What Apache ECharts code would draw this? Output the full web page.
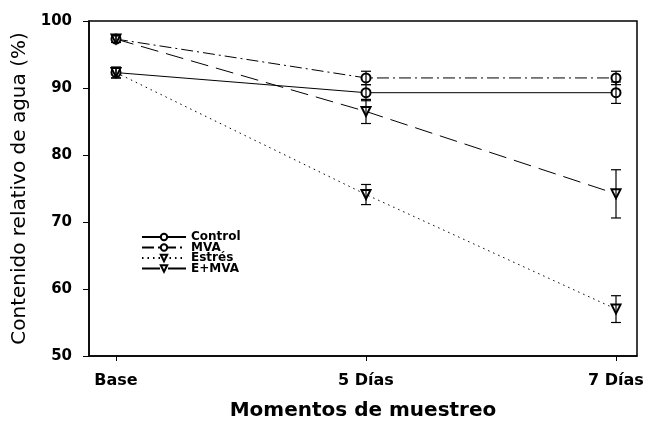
<!DOCTYPE html>
<html>
<head>
<meta charset="utf-8">
<script src="https://cdn.jsdelivr.net/npm/echarts@6/dist/echarts.min.js"></script>
<style>html,body{margin:0;padding:0;background:#fff}#c{width:646px;height:422px}</style>
</head>
<body>
<div id="c"></div>
<script>
var categories = ['Base', '5 Días', '7 Días'];
var seriesNames = ['Control', 'MVA', 'Estrés', 'E+MVA'];
var controlVals = [92.3, 89.3, 89.3];
var controlErr = [0.8, 1.2, 1.6];
var mvaVals = [97.3, 91.5, 91.5];
var mvaErr = [0.5, 1.0, 1.0];
var estresVals = [92.3, 74.1, 57.0];
var estresErr = [0.8, 1.5, 2.0];
var emvaVals = [97.3, 86.5, 74.2];
var emvaErr = [0.5, 1.8, 3.6];
var yTicks = [50, 60, 70, 80, 90, 100];

var FONT = 'DejaVu Sans';
var chart = echarts.init(document.getElementById('c'), null, {renderer: 'canvas'});

function pts(vals) { return vals.map(function (v, i) { return [i, v]; }); }
function errData(vals, errs) { return vals.map(function (v, i) { return [i, v - errs[i], v + errs[i]]; }); }

var styles = [
  {vals: controlVals, errs: controlErr, symbol: 'emptyCircle', rot: 0, type: 'solid'},
  {vals: mvaVals, errs: mvaErr, symbol: 'emptyCircle', rot: 0, type: [12, 4, 2, 4]},
  {vals: estresVals, errs: estresErr, symbol: 'emptyTriangle', rot: 180, type: [1.5, 4]},
  {vals: emvaVals, errs: emvaErr, symbol: 'emptyTriangle', rot: 180, type: [18, 8]}
];

var series = [];
styles.forEach(function (s, k) {
  series.push({
    name: seriesNames[k], type: 'line', data: pts(s.vals),
    symbol: s.symbol, symbolSize: 9, symbolRotate: s.rot,
    lineStyle: {color: '#000', width: 1, type: s.type},
    itemStyle: {color: '#000', borderWidth: 1},
    z: 3, animation: false
  });
  series.push({
    type: 'custom', data: errData(s.vals, s.errs), z: 5, animation: false,
    renderItem: function (params, api) {
      var lo = api.coord([api.value(0), api.value(1)]);
      var hi = api.coord([api.value(0), api.value(2)]);
      var w = 5;
      var st = {stroke: '#000', lineWidth: 1.2};
      return {type: 'group', children: [
        {type: 'line', shape: {x1: lo[0], y1: lo[1], x2: hi[0], y2: hi[1]}, style: st},
        {type: 'line', shape: {x1: lo[0] - w, y1: lo[1], x2: lo[0] + w, y2: lo[1]}, style: st},
        {type: 'line', shape: {x1: hi[0] - w, y1: hi[1], x2: hi[0] + w, y2: hi[1]}, style: st}
      ]};
    }
  });
});

chart.setOption({
  animation: false,
  grid: {left: 89, top: 21, right: 9, bottom: 66, show: true, borderColor: '#000', borderWidth: 1.5,
    containLabel: false, outerBoundsMode: 'none'},
  legend: {
    data: seriesNames, left: 136, top: 226, orient: 'vertical',
    itemWidth: 44, itemHeight: 8, itemGap: -1.5,
    textStyle: {fontFamily: FONT, fontWeight: 'bold', fontSize: 12, lineHeight: 10.5, color: '#000'},
    symbolRotate: 'inherit'
  },
  xAxis: {
    type: 'value', min: -0.108, max: 2.084,
    axisLine: {onZero: false, lineStyle: {color: '#000', width: 1.5}},
    axisTick: {show: true, length: 5, customValues: [0, 1, 2], lineStyle: {color: '#000'}},
    splitLine: {show: false},
    axisLabel: {customValues: [0, 1, 2], margin: 17, fontFamily: FONT, fontWeight: 'bold', fontSize: 16, color: '#000',
      formatter: function (v) { return categories[Math.round(v)]; }},
    name: 'Momentos de muestreo', nameLocation: 'middle', nameGap: 45,
    nameTextStyle: {fontFamily: FONT, fontWeight: 'bold', fontSize: 20, color: '#000'}
  },
  yAxis: {
    type: 'value', min: 50, max: 100, interval: 10,
    axisLine: {show: true, onZero: false, lineStyle: {color: '#000', width: 1.5}},
    axisTick: {show: true, length: 6, lineStyle: {color: '#000'}},
    splitLine: {show: false},
    axisLabel: {margin: 17, fontFamily: FONT, fontWeight: 'bold', fontSize: 15, color: '#000',
      formatter: function (v) { return yTicks.indexOf(v) >= 0 ? String(v) : ''; }},
    name: 'Contenido relativo de agua (%)', nameLocation: 'middle', nameGap: 58,
    nameTextStyle: {fontFamily: FONT, fontSize: 20, color: '#000'}
  },
  series: series
});
</script>
</body>
</html>
